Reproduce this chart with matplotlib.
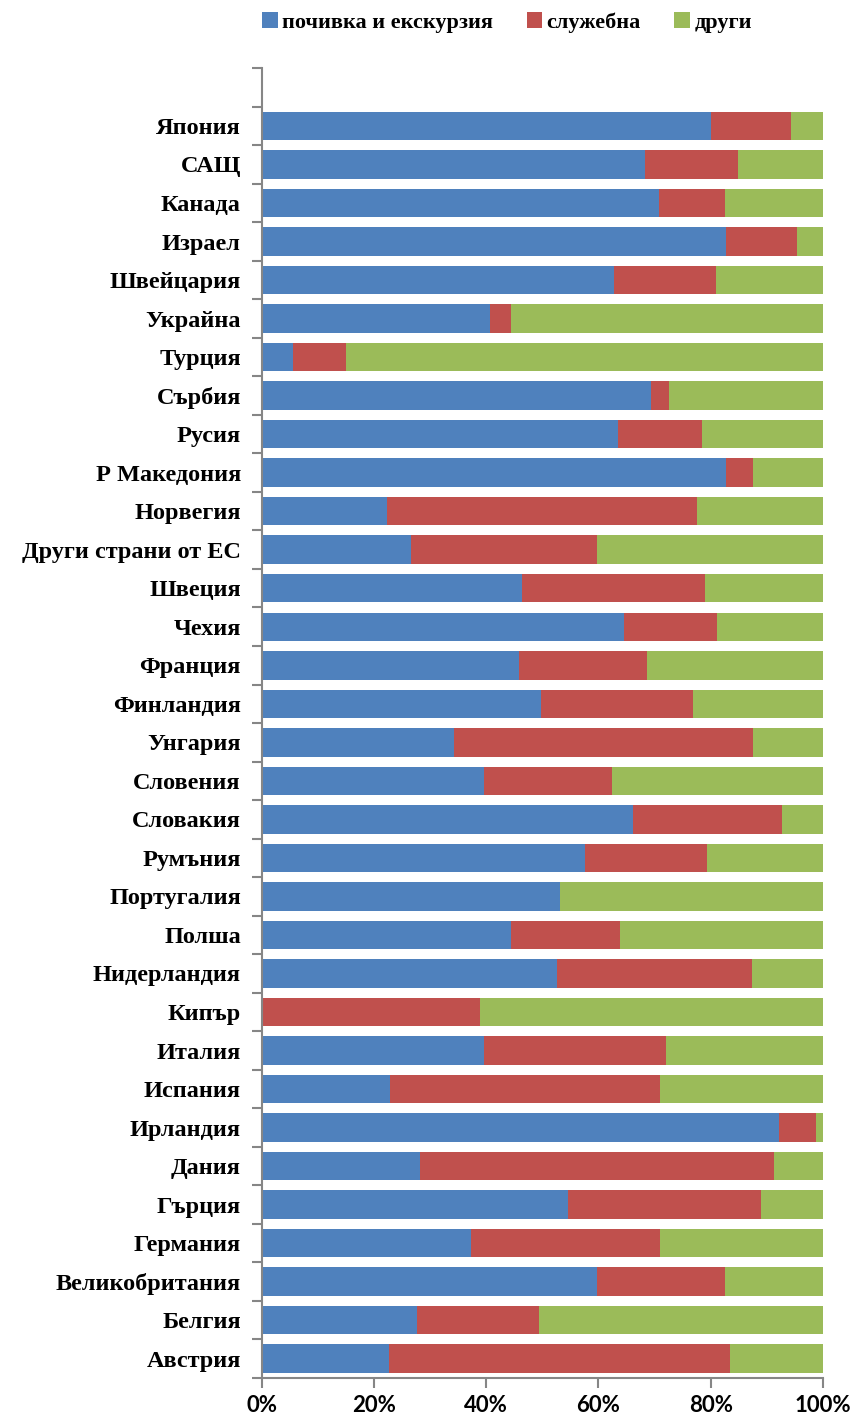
import matplotlib.pyplot as plt
import numpy as np

# categories, bottom to top
countries = ['Австрия', 'Белгия', 'Великобритания', 'Германия', 'Гърция', 'Дания',
             'Ирландия', 'Испания', 'Италия', 'Кипър', 'Нидерландия', 'Полша',
             'Португалия', 'Румъния', 'Словакия', 'Словения', 'Унгария', 'Финландия',
             'Франция', 'Чехия', 'Швеция', 'Други страни от ЕС', 'Норвегия',
             'Р Македония', 'Русия', 'Сърбия', 'Турция', 'Украйна', 'Швейцария',
             'Израел', 'Канада', 'САЩ', 'Япония']

# shares in %
holiday = [22.7, 27.6, 59.7, 37.3, 54.5, 28.2, 92.2, 22.9, 39.6, 0.0, 52.6, 44.4,
           53.1, 57.6, 66.2, 39.6, 34.3, 49.7, 45.8, 64.5, 46.4, 26.6, 22.3,
           82.7, 63.4, 69.4, 5.5, 40.7, 62.7, 82.8, 70.7, 68.2, 80.1]
business = [60.8, 21.8, 22.9, 33.6, 34.5, 63.1, 6.5, 48.0, 32.5, 38.9, 34.8, 19.4,
            0.0, 21.8, 26.5, 22.8, 53.3, 27.2, 22.8, 16.7, 32.6, 33.1, 55.3,
            4.9, 15.1, 3.1, 9.6, 3.8, 18.3, 12.6, 11.9, 16.7, 14.2]
other = [100 - h - b for h, b in zip(holiday, business)]

series_names = ['почивка и екскурзия', 'служебна', 'други']
colors = ['#4F81BD', '#C0504D', '#9BBB59']

fig = plt.figure(figsize=(8.55, 14.2), dpi=100)
ax = fig.add_axes([0.306, 0.0296, 0.6566, 0.9224])

y = np.arange(len(countries))
left = np.zeros(len(countries))
for vals, name, col in zip([holiday, business, other], series_names, colors):
    ax.barh(y, vals, left=left, height=0.74, color=col, label=name, linewidth=0)
    left += np.array(vals)

# one empty slot on top, as in the original
ax.set_ylim(-0.5, len(countries) + 0.5)
ax.set_xlim(0, 100)

ax.set_yticks(y)
ax.set_yticklabels(countries, fontfamily='Liberation Serif', fontweight='bold', fontsize=17.5)
ax.set_yticks(np.arange(-0.5, len(countries) + 1, 1), minor=True)
ax.tick_params(axis='y', which='major', length=0, pad=15)
ax.tick_params(axis='y', which='minor', length=7, width=1.5, color='#868686')

ax.set_xticks(np.arange(0, 101, 20))
ax.set_xticklabels([f'{v}%' for v in range(0, 101, 20)], fontfamily='Lato',
                   fontweight='bold', fontsize=16)
ax.tick_params(axis='x', length=7, width=1.5, color='#868686', pad=5)

for s in ['top', 'right']:
    ax.spines[s].set_visible(False)
for s in ['left', 'bottom']:
    ax.spines[s].set_color('#868686')
    ax.spines[s].set_linewidth(1.5)

fig.legend(loc='center', bbox_to_anchor=(0.593, 0.984), ncol=3, frameon=False,
           prop={'family': 'Liberation Serif', 'weight': 'bold', 'size': 16},
           handlelength=0.7, handleheight=0.7, handletextpad=0.2, columnspacing=1.5)

fig.savefig('out.png', dpi=100)
